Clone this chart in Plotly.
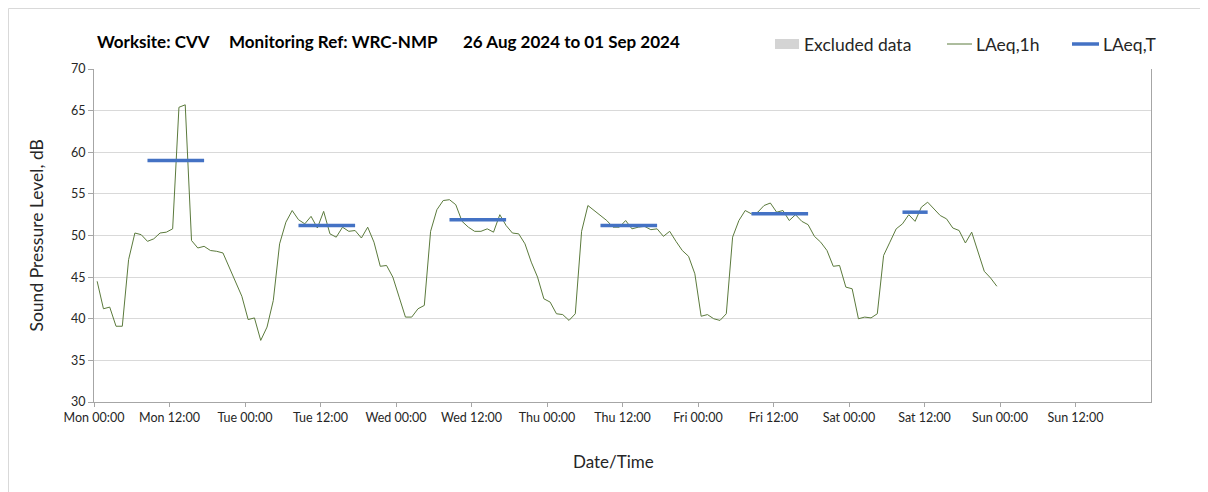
import pandas as pd
import plotly.graph_objects as go

# ---------------- data ----------------
start_time = "2024-08-26 00:30"          # first hourly LAeq,1h sample (hourly, centred on half hour)
mon = [44.5, 41.2, 41.4, 39.1, 39.1, 47.1, 50.3, 50.1, 49.3, 49.6, 50.3, 50.4,
       50.8, 65.4, 65.7, 49.4, 48.5, 48.7, 48.2, 48.1, 47.9, 46.2, 44.6, 42.7]
tue = [39.9, 40.1, 37.4, 39.0, 42.2, 49.0, 51.6, 53.0, 51.9, 51.4, 52.3, 50.9,
       52.9, 50.2, 49.8, 51.0, 50.5, 50.6, 49.7, 51.0, 49.2, 46.3, 46.4, 45.0]
wed = [42.6, 40.2, 40.2, 41.2, 41.6, 50.5, 53.1, 54.2, 54.3, 53.7, 51.7, 51.0,
       50.5, 50.5, 50.8, 50.4, 52.5, 51.2, 50.3, 50.2, 49.0, 46.8, 45.0, 42.4]
thu = [42.0, 40.6, 40.5, 39.8, 40.6, 50.5, 53.6, 53.0, 52.3, 51.8, 51.0, 51.0,
       51.8, 50.8, 51.0, 51.1, 50.7, 50.8, 49.9, 50.5, 49.3, 48.2, 47.5, 45.4]
fri = [40.3, 40.5, 40.0, 39.8, 40.6, 49.8, 51.8, 53.0, 52.6, 52.8, 53.6, 53.9,
       52.8, 53.0, 51.8, 52.5, 51.7, 51.3, 49.9, 49.2, 48.2, 46.3, 46.4, 43.8]
sat = [43.6, 40.0, 40.2, 40.1, 40.6, 47.6, 49.2, 50.8, 51.4, 52.5, 51.7, 53.4,
       54.0, 53.2, 52.4, 52.0, 50.9, 50.6, 49.1, 50.4, 48.0, 45.7, 44.9, 43.9]

# LAeq,T (period average) segments
lt_start = ["2024-08-26 08:30", "2024-08-27 08:30", "2024-08-28 08:30",
            "2024-08-29 08:30", "2024-08-30 08:30", "2024-08-31 08:30"]
lt_end = ["2024-08-26 17:30", "2024-08-27 17:30", "2024-08-28 17:30",
          "2024-08-29 17:30", "2024-08-30 17:30", "2024-08-31 12:30"]
lt_values = [59.0, 51.2, 51.9, 51.2, 52.6, 52.8]

x_range = ["2024-08-26 00:00", "2024-09-02 00:00"]
y_range = [30, 70]

title_parts = ["Worksite: CVV", "Monitoring Ref: WRC-NMP", "26 Aug 2024 to 01 Sep 2024"]
legend_labels = ["Excluded data", "LAeq,1h", "LAeq,T"]
y_title = "Sound Pressure Level, dB"
x_title = "Date/Time"

# ---------------- build ----------------
laeq_1h = mon + tue + wed + thu + fri + sat
times_1h = pd.date_range(start_time, periods=len(laeq_1h), freq="h")

lt_x, lt_y = [], []
for s, e, v in zip(lt_start, lt_end, lt_values):
    lt_x += [s, e, None]
    lt_y += [v, v, None]

GREEN = "#5b7a3c"
BLUE = "#4472c4"
GREY_FILL = "#d4d4d4"
FONT = "Lato"
TXT = "#262626"

# page offset (browser body margin) and target plot area in window pixels
OFF = 8
W, H = 1208 - OFF, 492 - OFF
L, R, T, B = 94, 1151, 69, 402


def px(x):
    return (x - L) / (R - L)


def py(y):
    return (B - y) / (B - T)


fig = go.Figure()
fig.add_trace(go.Bar(x=[None], y=[None], name=legend_labels[0],
                     marker_color=GREY_FILL, showlegend=False))
fig.add_trace(go.Scatter(x=times_1h, y=laeq_1h, mode="lines", name=legend_labels[1],
                         line=dict(color=GREEN, width=1), showlegend=False))
fig.add_trace(go.Scatter(x=lt_x, y=lt_y, mode="lines", name=legend_labels[2],
                         line=dict(color=BLUE, width=3.5), connectgaps=False,
                         showlegend=False))

tickvals = pd.date_range(x_range[0], periods=14, freq="12h")
gridvals = pd.date_range("2024-08-27 00:00", periods=6, freq="24h")

fig.update_layout(
    width=W, height=H,
    margin=dict(l=L - OFF, r=1208 - R, t=T - OFF, b=492 - B),
    paper_bgcolor="white", plot_bgcolor="white",
    font=dict(family=FONT, size=12, color=TXT),
    xaxis=dict(type="date", range=x_range, tickvals=tickvals, tickformat="%a %H:%M",
               showgrid=False, showline=True, linecolor="#a6a6a6", linewidth=1,
               ticks="outside", ticklen=4, tickcolor="#a6a6a6",
               tickfont=dict(family=FONT, size=12.5, color=TXT), zeroline=False),
    xaxis2=dict(type="date", range=x_range, overlaying="x", anchor="y",
                tickvals=gridvals, showticklabels=False, ticks="",
                showgrid=True, gridcolor="#d9d9d9", gridwidth=1, showline=False,
                zeroline=False),
    yaxis=dict(range=y_range, dtick=5, showgrid=True, gridcolor="#d9d9d9", gridwidth=1,
               showline=True, linecolor="#a6a6a6", linewidth=1, mirror=True,
               ticks="outside", ticklen=5, tickcolor="#a6a6a6",
               tickfont=dict(family=FONT, size=12.5, color=TXT), zeroline=False),
    showlegend=False,
    bargap=0,
)

anns = []
# title pieces
for text, xpix in zip(title_parts, [95, 227, 461]):
    anns.append(dict(text="<b>%s</b>" % text, x=px(xpix), y=py(42), xref="paper", yref="paper",
                     xanchor="left", yanchor="middle", showarrow=False,
                     font=dict(family=FONT, size=17, color="#000000")))
# axis titles
anns.append(dict(text=y_title, x=px(36), y=py(235.5), xref="paper", yref="paper",
                 xanchor="center", yanchor="middle", textangle=-90, showarrow=False,
                 font=dict(family=FONT, size=17.5, color=TXT)))
anns.append(dict(text=x_title, x=px(613.5), y=py(461), xref="paper", yref="paper",
                 xanchor="center", yanchor="middle", showarrow=False,
                 font=dict(family=FONT, size=17, color=TXT)))
# legend texts
for text, xpix in zip(legend_labels, [802, 974, 1101]):
    anns.append(dict(text=text, x=px(xpix), y=py(44), xref="paper", yref="paper",
                     xanchor="left", yanchor="middle", showarrow=False,
                     font=dict(family=FONT, size=17.5, color=TXT)))
fig.update_layout(annotations=anns)

shapes = [
    # outer chart border
    dict(type="rect", xref="paper", yref="paper", x0=px(8.5), x1=px(1240), y0=py(8.5), y1=py(520),
         line=dict(color="#d9d9d9", width=1), fillcolor="rgba(0,0,0,0)", layer="below"),
    # legend keys
    dict(type="rect", xref="paper", yref="paper", x0=px(775), x1=px(799), y0=py(39), y1=py(49),
         line=dict(width=0), fillcolor=GREY_FILL),
    dict(type="line", xref="paper", yref="paper", x0=px(947), x1=px(972), y0=py(44), y1=py(44),
         line=dict(color=GREEN, width=1)),
    dict(type="line", xref="paper", yref="paper", x0=px(1072), x1=px(1099), y0=py(44), y1=py(44),
         line=dict(color=BLUE, width=3.5)),
]
fig.update_layout(shapes=shapes)

fig.write_html("out.html")
